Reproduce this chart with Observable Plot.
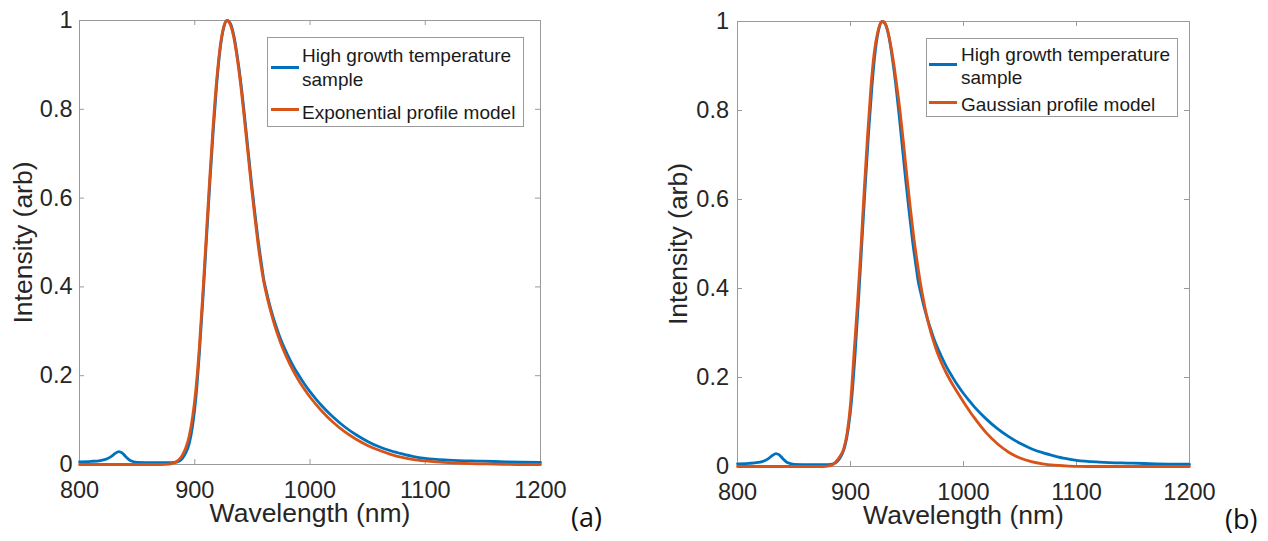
<!DOCTYPE html>
<html><head><meta charset="utf-8">
<script src="https://cdn.jsdelivr.net/npm/d3@7"></script>
<script src="https://cdn.jsdelivr.net/npm/@observablehq/plot@0.6"></script>
<style>
html,body{margin:0;padding:0;background:#fff;}
#root{position:relative;width:1268px;height:541px;overflow:hidden;font-family:"Liberation Sans",Arial,sans-serif;}
.panel{position:absolute;top:0;}
.legend{position:absolute;border:1px solid #9a9a9a;box-sizing:border-box;background:#fff;}
.lt{position:absolute;font-size:19px;line-height:19px;white-space:nowrap;color:#1a1a1a;}
.sw{position:absolute;height:3px;}
.tag{position:absolute;font-family:"Open Sans",sans-serif;font-size:27px;line-height:27px;color:#111;}
</style></head><body><div id="root"></div>
<script>
// ---- data ----
const xTicks = [800, 900, 1000, 1100, 1200];
const yTicks = [0, 0.2, 0.4, 0.6, 0.8, 1];

const sampleWl = [800,810,818,824,828,831,834,837,840,844,850,865,880,885,889,892,895,898,901,904,907,910,913,916,919,922,925,928,931,934,937,940,943,946,949,952,955,958,960,962,964,966,968,970,973,976,980,985,990,995,1000,1005,1010,1020,1030,1040,1050,1060,1070,1080,1090,1100,1120,1140,1150,1170,1200];
const sampleInt = [0.006,0.007,0.009,0.013,0.019,0.025,0.029,0.026,0.018,0.009,0.005,0.004,0.004,0.006,0.013,0.025,0.045,0.085,0.15,0.25,0.37,0.5,0.63,0.75,0.855,0.935,0.982,1.0,0.993,0.965,0.918,0.86,0.79,0.715,0.64,0.57,0.505,0.45,0.415,0.392,0.37,0.35,0.332,0.316,0.293,0.273,0.25,0.224,0.202,0.182,0.164,0.148,0.133,0.107,0.085,0.067,0.052,0.04,0.031,0.024,0.018,0.014,0.01,0.008,0.0075,0.006,0.005];

const expWl = [800,870,878,882,886,889,892,895,898,901,904,907,910,913,916,919,922,925,928,931,934,937,940,943,946,949,952,955,958,960,962,964,966,968,970,973,976,980,985,990,995,1000,1005,1010,1020,1030,1040,1050,1060,1070,1080,1090,1100,1120,1140,1160,1180,1200];
const expInt = [0,0,0.001,0.004,0.01,0.02,0.036,0.062,0.105,0.17,0.265,0.385,0.515,0.645,0.765,0.865,0.94,0.985,1.0,0.99,0.96,0.912,0.852,0.78,0.705,0.63,0.56,0.495,0.44,0.41,0.386,0.364,0.344,0.325,0.308,0.285,0.264,0.24,0.213,0.19,0.17,0.152,0.136,0.121,0.095,0.074,0.057,0.043,0.032,0.023,0.016,0.011,0.008,0.004,0.002,0.001,0,0];

const gaussWl = [800,875,882,886,890,894,897,900,903,906,909,912,915,918,921,924,927,929,932,935,938,941,944,947,950,953,956,959,962,964,966,968,970,973,976,980,985,990,995,1000,1005,1010,1020,1030,1040,1050,1060,1070,1080,1090,1100,1120,1200];
const gaussInt = [0,0,0.002,0.008,0.02,0.04,0.075,0.14,0.25,0.36,0.48,0.615,0.74,0.85,0.93,0.975,0.998,1.0,0.988,0.955,0.91,0.855,0.795,0.725,0.65,0.58,0.515,0.46,0.41,0.382,0.356,0.333,0.312,0.285,0.262,0.236,0.209,0.186,0.165,0.145,0.126,0.108,0.076,0.051,0.032,0.019,0.011,0.006,0.003,0.0015,0.0005,0,0];

const sampleLabel = ["High growth temperature", "sample"];
const expLabel = "Exponential profile model";
const gaussLabel = "Gaussian profile model";
const xTitle = "Wavelength (nm)";
const yTitle = "Intensity (arb)";

// ---- build ----
const BLUE = "#0072BD", ORANGE = "#D95319", AXIS = "#9a9a9a", TXT = "#262626";
const toRows = (wl, v) => wl.map((w, i) => ({wl: w, v: v[i]}));
const sample = toRows(sampleWl, sampleInt);
const expo = toRows(expWl, expInt);
const gauss = toRows(gaussWl, gaussInt);

function panel({ml, mr, mt, mb, model, yPad, yDx}) {
  const W = 634, H = 541;
  const iw = W - ml - mr, ih = H - mt - mb;
  return Plot.plot({
    width: W, height: H,
    marginLeft: ml, marginRight: mr, marginTop: mt, marginBottom: mb,
    x: {domain: [800, 1200]},
    y: {domain: [0, 1]},
    style: {fontFamily: '"Liberation Sans", Arial, sans-serif', background: "transparent", color: TXT},
    marks: [
      Plot.frame({stroke: AXIS}),
      Plot.tickX(xTicks, {x: d => d, insetTop: ih - 5, stroke: AXIS}),
      Plot.tickX(xTicks, {x: d => d, insetBottom: ih - 5, stroke: AXIS}),
      Plot.tickY(yTicks, {y: d => d, insetRight: iw - 5, stroke: AXIS}),
      Plot.tickY(yTicks, {y: d => d, insetLeft: iw - 5, stroke: AXIS}),
      Plot.axisX(xTicks, {tickSize: 0, tickPadding: 16.5, fontSize: 23.5, fill: TXT, tickFormat: d => String(d), label: null}),
      Plot.axisY(yTicks, {tickSize: 0, tickPadding: yPad, fontSize: 23.5, fill: TXT, tickFormat: d => String(d), label: null}),
      Plot.text([xTitle], {text: d => d, frameAnchor: "bottom", dy: 49, lineAnchor: "middle", textAnchor: "middle", fontSize: 26.5, fill: TXT}),
      Plot.text([yTitle], {text: d => d, frameAnchor: "left", dx: yDx, rotate: -90, lineAnchor: "middle", textAnchor: "middle", fontSize: 26.5, fill: TXT}),
      Plot.line(sample, {x: "wl", y: "v", stroke: BLUE, strokeWidth: 2.8, curve: "monotone-x"}),
      Plot.line(model, {x: "wl", y: "v", stroke: ORANGE, strokeWidth: 2.8, curve: "monotone-x"})
    ]
  });
}

const root = document.getElementById("root");
function place(el, left) { const d = document.createElement("div"); d.className = "panel"; d.style.left = left + "px"; d.appendChild(el); root.appendChild(d); }
place(panel({ml: 79, mr: 94, mt: 20, mb: 77, model: expo, yPad: 7, yDx: -55.5}), 0);
place(panel({ml: 103, mr: 79, mt: 21, mb: 75, model: gauss, yPad: 8.5, yDx: -58.5}), 634);

function add(cls, css, text) {
  const d = document.createElement("div"); d.className = cls;
  Object.assign(d.style, css); if (text) d.textContent = text; root.appendChild(d); return d;
}
// legend (a)
add("legend", {left: "267px", top: "37px", width: "257px", height: "90px"});
add("sw", {left: "271px", top: "66px", width: "28px", background: BLUE});
add("sw", {left: "271px", top: "108px", width: "28px", background: ORANGE});
add("lt", {left: "302px", top: "46px"}, sampleLabel[0]);
add("lt", {left: "302px", top: "70px"}, sampleLabel[1]);
add("lt", {left: "302px", top: "102.5px"}, expLabel);
// legend (b)
add("legend", {left: "926px", top: "38px", width: "252px", height: "79px"});
add("sw", {left: "929px", top: "62.5px", width: "28px", background: BLUE});
add("sw", {left: "929px", top: "100.5px", width: "28px", background: ORANGE});
add("lt", {left: "961px", top: "45px"}, sampleLabel[0]);
add("lt", {left: "961px", top: "67.5px"}, sampleLabel[1]);
add("lt", {left: "961px", top: "95px"}, gaussLabel);
// panel tags
add("tag", {left: "571px", top: "503px"}, "(a)");
add("tag", {left: "1225px", top: "505px"}, "(b)");
</script></body></html>
